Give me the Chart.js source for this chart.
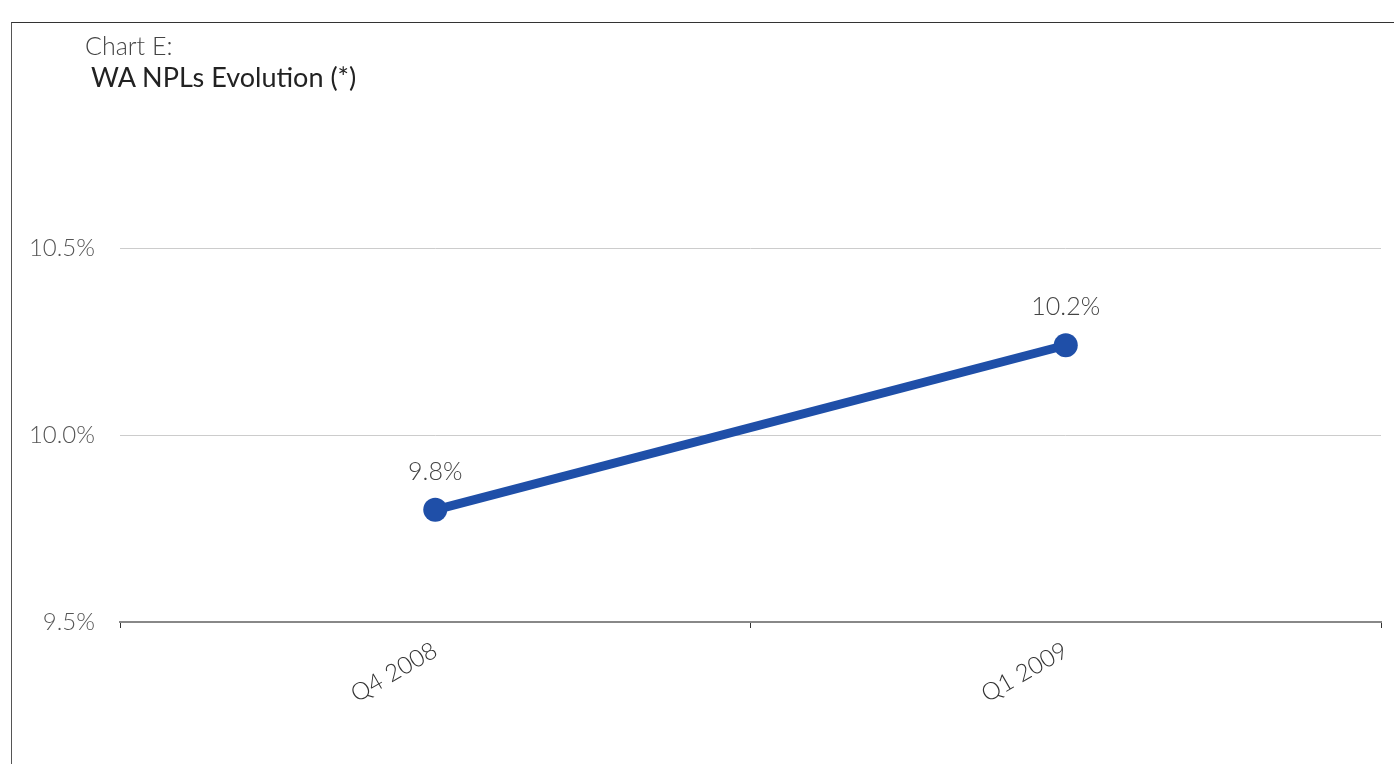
<!DOCTYPE html>
<html>
<head>
<meta charset="utf-8">
<script src="https://cdn.jsdelivr.net/npm/chart.js@4/dist/chart.umd.min.js"></script>
<style>
  html, body { margin: 0; padding: 0; background: #fff; }
  #wrap { position: relative; width: 1394px; height: 764px; overflow: hidden; }
  #frame { position: absolute; left: 11px; top: 22px; width: 1400px; height: 800px;
           border-top: 1.5px solid #333; border-left: 1.5px solid #555; pointer-events: none; }
  .t1 { position: absolute; left: 85px; top: 33px; font-family: Lato, sans-serif; font-weight: 300;
        font-size: 25px; color: #444; line-height: 1; white-space: nowrap; }
  .t2 { position: absolute; left: 91px; top: 63px; font-family: Lato, sans-serif; font-weight: 400;
        font-size: 27px; color: #222; line-height: 1; white-space: nowrap; }
  canvas { position: absolute; left: 0; top: 0; }
</style>
</head>
<body>
<div id="wrap">
  <canvas id="c" width="1394" height="764"></canvas>
  <div id="frame"></div>
  <div class="t1">Chart E:</div>
  <div class="t2">WA NPLs Evolution (*)</div>
</div>
<script>
const categories = ["Q4 2008", "Q1 2009"];
const nplValues = [9.80, 10.24];
const dataLabels = ["9.8%", "10.2%"];
const yTicks = [9.5, 10.0, 10.5];

const labelPlugin = {
  id: 'pointLabels',
  afterDatasetsDraw(chart) {
    const ctx = chart.ctx;
    const meta = chart.getDatasetMeta(0);
    ctx.save();
    ctx.font = '300 25px Lato, sans-serif';
    ctx.fillStyle = '#444';
    ctx.textAlign = 'center';
    ctx.textBaseline = 'middle';
    meta.data.forEach((pt, i) => {
      ctx.fillText(dataLabels[i], pt.x, pt.y - 38);
    });
    ctx.restore();
  }
};

new Chart(document.getElementById('c'), {
  type: 'line',
  data: {
    labels: categories,
    datasets: [{
      data: nplValues,
      borderColor: '#1f4fa8',
      backgroundColor: '#1f4fa8',
      borderWidth: 9,
      pointRadius: 12,
      pointHoverRadius: 12,
      pointBackgroundColor: '#1f4fa8',
      pointBorderWidth: 0,
      tension: 0
    }]
  },
  options: {
    responsive: false,
    animation: false,
    layout: { padding: { top: 98.4, right: 13, bottom: 0, left: 0 } },
    plugins: { legend: { display: false }, tooltip: { enabled: false }, title: { display: false } },
    scales: {
      x: {
        offset: true,
        grid: { display: true, drawOnChartArea: false, drawTicks: true, tickLength: 6, offset: true, color: '#333', lineWidth: 1 },
        border: { display: true, color: '#888', width: 2 },
        ticks: {
          font: { family: 'Lato, sans-serif', size: 24, weight: '300' },
          color: '#333',
          maxRotation: 30, minRotation: 30,
          padding: 8
        },
        afterFit(scale) { scale.height = 142; }
      },
      y: {
        min: 9.5, max: 10.9,
        grid: { color: '#cccccc', lineWidth: 1, drawTicks: false },
        border: { display: false },
        afterBuildTicks(scale) { scale.ticks = yTicks.map(v => ({ value: v })); },
        ticks: {
          font: { family: 'Lato, sans-serif', size: 24, weight: '300' },
          color: '#555',
          padding: 25,
          callback: v => v.toFixed(1) + '%'
        },
        afterFit(scale) { scale.width = 120; }
      }
    }
  },
  plugins: [labelPlugin]
});
</script>
</body>
</html>
